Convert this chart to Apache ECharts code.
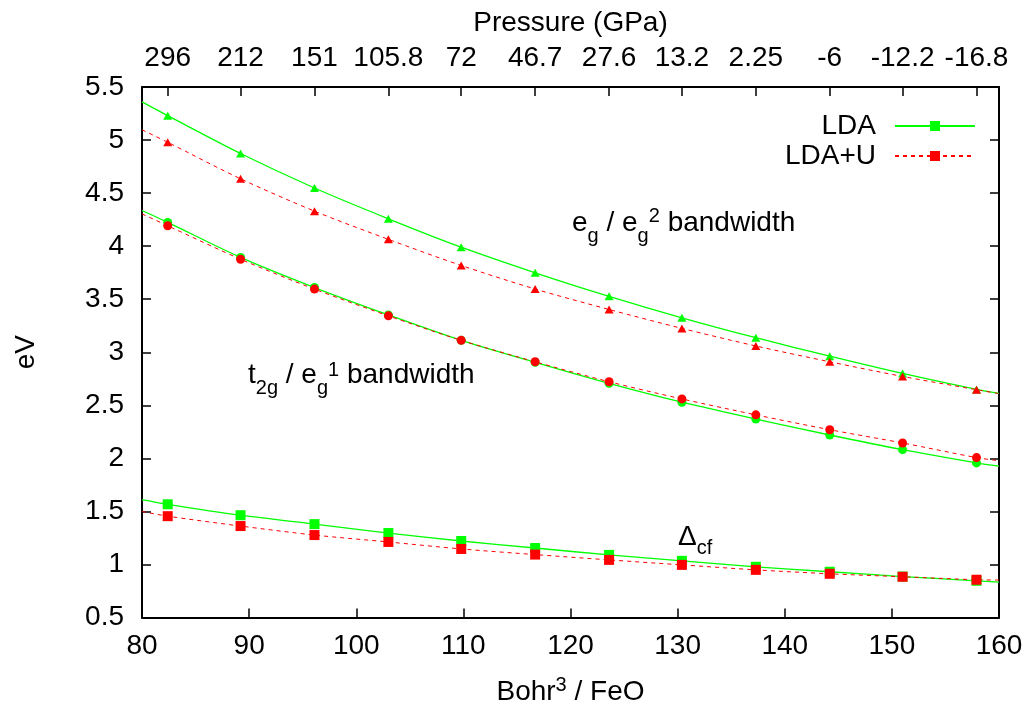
<!DOCTYPE html>
<html>
<head>
<meta charset="utf-8">
<title>FeO bandwidths vs volume</title>
<script src="https://cdn.jsdelivr.net/npm/echarts@6/dist/echarts.min.js"></script>
<style>
  html, body { margin: 0; padding: 0; background: #fff; }
  #chart { width: 1031px; height: 715px; }
</style>
</head>
<body>
<div id="chart"></div>
<script>
// Unit-cell volume per FeO (Bohr^3) at each calculated point
const volumes = [82.4, 89.2, 96.1, 103.0, 109.8, 116.7, 123.6, 130.4, 137.3, 144.2, 151.0, 157.9];
// Corresponding pressure (GPa), shown on the top axis
const pressureLabels = ['296', '212', '151', '105.8', '72', '46.7', '27.6', '13.2', '2.25', '-6', '-12.2', '-16.8'];

// e_g / e_g^2 bandwidth (eV)
const ldaEg  = [5.23, 4.873, 4.548, 4.258, 3.99, 3.749, 3.527, 3.325, 3.137, 2.963, 2.80, 2.65];
const ldaUEg = [4.979, 4.635, 4.33, 4.064, 3.818, 3.596, 3.403, 3.225, 3.059, 2.91, 2.772, 2.647];
// t_2g / e_g^1 bandwidth (eV)
const ldaT2g  = [4.224, 3.894, 3.61, 3.352, 3.112, 2.905, 2.707, 2.529, 2.37, 2.22, 2.082, 1.957];
const ldaUT2g = [4.192, 3.877, 3.595, 3.343, 3.112, 2.91, 2.722, 2.56, 2.41, 2.27, 2.145, 2.007];
// Crystal-field splitting Delta_cf (eV)
const ldaDcf  = [1.567, 1.464, 1.380, 1.296, 1.221, 1.155, 1.09, 1.034, 0.978, 0.931, 0.886, 0.846];
const ldaUDcf = [1.455, 1.362, 1.277, 1.212, 1.146, 1.093, 1.043, 0.996, 0.949, 0.912, 0.884, 0.856];

// Fitted-curve values at the two ends of the volume range (80 and 160)
const ldaEgEnds   = [5.36, 2.613];
const ldaUEgEnds  = [5.097, 2.61];
const ldaT2gEnds  = [4.336, 1.926];
const ldaUT2gEnds = [4.304, 1.977];
const ldaDcfEnds  = [1.611, 0.834];
const ldaUDcfEnds = [1.499, 0.853];

const X_MIN = 80, X_MAX = 160;
const FONT = 'Liberation Sans, Arial, Helvetica, sans-serif';
const GREEN = '#00ff00';
const RED = '#ff0000';

function curveData(values, ends) {
  const pts = [{ value: [X_MIN, ends[0]], symbol: 'none' }];
  volumes.forEach((v, i) => pts.push([v, values[i]]));
  pts.push({ value: [X_MAX, ends[1]], symbol: 'none' });
  return pts;
}

function makeSeries(name, values, ends, symbol, size, color, dashed) {
  return {
    type: 'line',
    name: name,
    data: curveData(values, ends),
    symbol: symbol,
    symbolSize: size,
    showSymbol: true,
    smooth: 0.3,
    silent: true,
    animation: false,
    emphasis: { disabled: true },
    lineStyle: { color: color, width: dashed ? 1 : 1.3, type: dashed ? [4, 4] : 'solid' },
    itemStyle: { color: color }
  };
}

function nearestPressure(v) {
  let best = 0;
  volumes.forEach((x, i) => { if (Math.abs(x - v) < Math.abs(volumes[best] - v)) best = i; });
  return pressureLabels[best];
}

const axisLine = { show: true, lineStyle: { color: '#000', width: 2 } };
const tick = { show: true, inside: true, length: 9, lineStyle: { color: '#000', width: 1.5 } };
const labelStyle = { color: '#000', fontSize: 28, fontFamily: FONT };

const annotRich = {
  n:  { fontSize: 28, lineHeight: 28, verticalAlign: 'middle', fontFamily: FONT, fill: '#000' },
  b:  { fontSize: 20, lineHeight: 20, verticalAlign: 'middle', padding: [26, 0, 0, 0], fontFamily: FONT, fill: '#000' },
  b2: { fontSize: 20, lineHeight: 20, verticalAlign: 'middle', padding: [22, 0, 0, 0], fontFamily: FONT, fill: '#000' },
  p:  { fontSize: 20, lineHeight: 20, verticalAlign: 'middle', padding: [0, 0, 10, 0], fontFamily: FONT, fill: '#000' },
  p2: { fontSize: 20, lineHeight: 20, verticalAlign: 'middle', padding: [0, 0, 15, 0], fontFamily: FONT, fill: '#000' }
};

function annotation(x, y, text) {
  return {
    type: 'text', x: x, y: y, silent: true,
    style: { text: text, align: 'left', verticalAlign: 'middle', rich: annotRich, fill: '#000', font: '28px ' + FONT }
  };
}

const chart = echarts.init(document.getElementById('chart'), null, { renderer: 'canvas' });
chart.setOption({
  animation: false,
  backgroundColor: '#fff',
  textStyle: { fontFamily: FONT },
  grid: { left: 142, right: 32, top: 87, bottom: 94 },
  legend: {
    data: ['LDA', 'LDA+U'],
    orient: 'vertical',
    align: 'right',
    right: 55,
    top: 112,
    padding: 0,
    itemWidth: 80,
    itemHeight: 12.5,
    itemGap: 2,
    selectedMode: false,
    textStyle: { color: '#000', fontSize: 28, fontFamily: FONT, lineHeight: 28, padding: [0, 14, 0, 0] }
  },
  xAxis: [
    {
      type: 'value', position: 'bottom', min: X_MIN, max: X_MAX, interval: 10,
      axisLine: axisLine, axisTick: tick, splitLine: { show: false },
      axisLabel: Object.assign({ margin: 15 }, labelStyle),
      name: '{a|Bohr}{s|3}{a| / FeO}', nameLocation: 'middle', nameGap: 61,
      nameTextStyle: {
        color: '#000', fontSize: 28, fontFamily: FONT,
        rich: {
          a: { fontSize: 28, lineHeight: 28, fontFamily: FONT, color: '#000' },
          s: { fontSize: 20, lineHeight: 20, fontFamily: FONT, color: '#000', padding: [0, 0, 15, 0] }
        }
      }
    },
    {
      type: 'value', position: 'top', min: X_MIN, max: X_MAX,
      axisLine: axisLine,
      axisTick: Object.assign({ customValues: volumes }, tick),
      splitLine: { show: false },
      axisLabel: Object.assign({ margin: 15, customValues: volumes, formatter: nearestPressure, hideOverlap: false }, labelStyle),
      name: 'Pressure (GPa)', nameLocation: 'middle', nameGap: 50,
      nameTextStyle: { color: '#000', fontSize: 28, fontFamily: FONT }
    }
  ],
  yAxis: [
    {
      type: 'value', position: 'left', min: 0.5, max: 5.5, interval: 0.5,
      axisLine: axisLine, axisTick: tick, splitLine: { show: false },
      axisLabel: Object.assign({ margin: 18 }, labelStyle),
      name: 'eV', nameLocation: 'middle', nameGap: 102,
      nameTextStyle: { color: '#000', fontSize: 28, fontFamily: FONT }
    },
    {
      type: 'value', position: 'right', min: 0.5, max: 5.5, interval: 0.5,
      axisLine: axisLine, axisTick: tick, splitLine: { show: false },
      axisLabel: { show: false }
    }
  ],
  series: [
    makeSeries('LDA', ldaDcf, ldaDcfEnds, 'rect', 10, GREEN, false),
    makeSeries('LDA', ldaT2g, ldaT2gEnds, 'circle', 9, GREEN, false),
    makeSeries('LDA', ldaEg, ldaEgEnds, 'triangle', [9, 8], GREEN, false),
    makeSeries('LDA+U', ldaUDcf, ldaUDcfEnds, 'rect', 10, RED, true),
    makeSeries('LDA+U', ldaUT2g, ldaUT2gEnds, 'circle', 9, RED, true),
    makeSeries('LDA+U', ldaUEg, ldaUEgEnds, 'triangle', [9, 8], RED, true)
  ],
  graphic: [
    annotation(572, 223.5, '{n|e}{b|g}{n| / e}{b|g}{p2|2}{n| bandwidth}'),
    annotation(248, 375, '{n|t}{b|2g}{n| / e}{b|g}{p|1}{n| bandwidth}'),
    annotation(678, 537, '{n|\u0394}{b2|cf}')
  ]
});
</script>
</body>
</html>
